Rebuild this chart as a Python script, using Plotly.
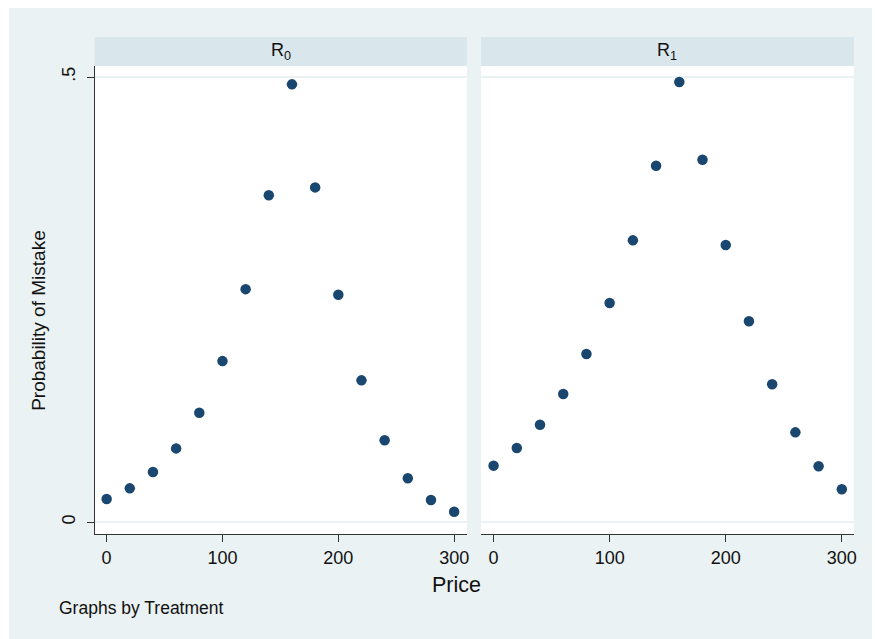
import plotly.graph_objects as go

price = [0, 20, 40, 60, 80, 100, 120, 140, 160, 180, 200, 220, 240, 260, 280, 300]
r0_prob = [0.0262, 0.0381, 0.0565, 0.083, 0.123, 0.181, 0.2618, 0.3673,
           0.4918, 0.3761, 0.2556, 0.1594, 0.0921, 0.0494, 0.025, 0.0119]
r1_prob = [0.0636, 0.0834, 0.1096, 0.1441, 0.189, 0.2462, 0.3166, 0.4004,
           0.4944, 0.4071, 0.3114, 0.2257, 0.155, 0.101, 0.0629, 0.0371]
panel_titles = ["R<sub>0</sub>", "R<sub>1</sub>"]
y_tickvals = [0, 0.5]
y_ticktext = ["0", ".5"]
x_tickvals = [0, 100, 200, 300]

W, H = 875, 639
BG = "#EAF2F3"
STRIP = "#D9E6EB"
NAVY = "#1A476F"
FONT = "Liberation Sans, Arial, sans-serif"

def px(x):
    return x / W

def py(y):
    return 1 - y / H

p1 = (95, 468.5)
p2 = (482.7, 856.7)
ytop, ybot = 66, 534

fig = go.Figure()
marker = dict(size=10.5, color=NAVY, line=dict(width=0))
fig.add_trace(go.Scatter(x=price, y=r0_prob, mode="markers", marker=marker,
                         xaxis="x", yaxis="y", showlegend=False))
fig.add_trace(go.Scatter(x=price, y=r1_prob, mode="markers", marker=marker,
                         xaxis="x2", yaxis="y2", showlegend=False))

axis_common = dict(
    showline=True, linecolor="#333333", linewidth=1.3,
    ticks="outside", ticklen=7, tickcolor="#333333", tickwidth=1.2,
    tickfont=dict(family=FONT, size=18, color="#111111"),
    zeroline=False,
)

yrange = [-0.01314, 0.5124]

fig.update_layout(
    width=W, height=H,
    margin=dict(l=0, r=0, t=0, b=0),
    paper_bgcolor="white",
    plot_bgcolor="white",
    font=dict(family=FONT, color="#111111"),
    xaxis=dict(domain=[px(p1[0]), px(p1[1])], range=[-10.32, 311.0],
               tickvals=x_tickvals, showgrid=False, anchor="y", **axis_common),
    xaxis2=dict(domain=[px(p2[0]), px(p2[1])], range=[-10.8, 310.3],
                tickvals=x_tickvals, showgrid=False, anchor="y2", **axis_common),
    yaxis=dict(domain=[py(ybot), py(ytop)], range=yrange, tickvals=y_tickvals,
               ticktext=y_ticktext, tickangle=-90, showgrid=True,
               gridcolor=BG, gridwidth=2, anchor="x", ticklabelstandoff=4,
               **axis_common),
    yaxis2=dict(domain=[py(ybot), py(ytop)], range=yrange, tickvals=y_tickvals,
                showticklabels=False, showgrid=True, gridcolor=BG, gridwidth=2,
                showline=False, ticks="", zeroline=False, anchor="x2"),
)

shapes = [
    dict(type="rect", xref="paper", yref="paper", x0=px(9), x1=1.0, y0=0.0, y1=py(8),
         fillcolor=BG, line=dict(width=0), layer="below"),
]
annotations = []
for (x0, x1), title in zip([p1, p2], panel_titles):
    shapes.append(dict(type="rect", xref="paper", yref="paper",
                       x0=px(x0), x1=px(x1), y0=py(ybot), y1=py(ytop),
                       fillcolor="white", line=dict(width=0), layer="below"))
    shapes.append(dict(type="rect", xref="paper", yref="paper",
                       x0=px(x0), x1=px(x1), y0=py(66), y1=py(37),
                       fillcolor=STRIP, line=dict(width=0), layer="below"))
    annotations.append(dict(text=title, xref="paper", yref="paper",
                            x=px((x0 + x1) / 2), y=py(51), showarrow=False,
                            xanchor="center", yanchor="middle",
                            font=dict(family=FONT, size=18, color="#111111")))

annotations.append(dict(text="Probability of Mistake", xref="paper", yref="paper",
                        x=px(38), y=py(320), showarrow=False, textangle=-90,
                        xanchor="center", yanchor="middle",
                        font=dict(family=FONT, size=19, color="#111111")))
annotations.append(dict(text="Price", xref="paper", yref="paper",
                        x=px(458), y=py(585), showarrow=False,
                        xanchor="center", yanchor="middle",
                        font=dict(family=FONT, size=21.5, color="#111111")))
annotations.append(dict(text="Graphs by Treatment", xref="paper", yref="paper",
                        x=px(57), y=py(608), showarrow=False,
                        xanchor="left", yanchor="middle",
                        font=dict(family=FONT, size=17.5, color="#111111")))

fig.update_layout(shapes=shapes, annotations=annotations)

fig.write_html("out.html")
